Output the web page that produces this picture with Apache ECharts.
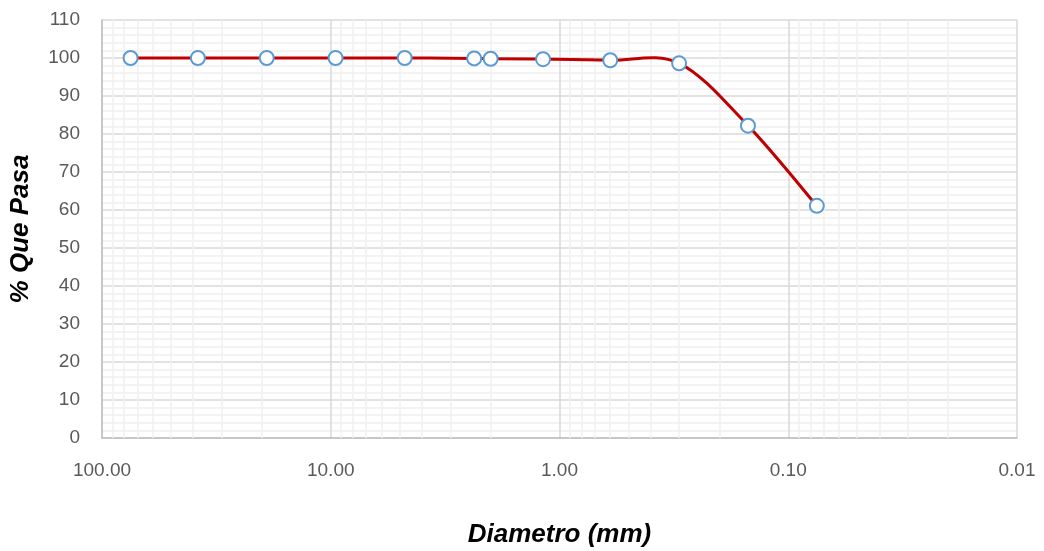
<!DOCTYPE html>
<html>
<head>
<meta charset="utf-8">
<script src="https://cdn.jsdelivr.net/npm/echarts@6/dist/echarts.min.js"></script>
<style>
  html, body { margin: 0; padding: 0; background: #fff; }
  #main { width: 1044px; height: 551px; }
</style>
</head>
<body>
<div id="main"></div>
<script>
// tamiz (mm) y porcentaje que pasa
var diametros = [75, 38.1, 19.05, 9.525, 4.75, 2.36, 2.0, 1.18, 0.6, 0.3, 0.15, 0.075];
var pasa = [100, 100, 100, 100, 100, 99.9, 99.8, 99.7, 99.4, 98.6, 82.2, 61.1];
var yTicks = [0, 110, 10];   // min, max, paso

var puntos = [];
for (var i = 0; i < diametros.length; i++) {
  puntos.push([diametros[i], pasa[i]]);
}

// lineas menores del eje log (2..9 de cada decada)
var menores = [];
var decadas = [0.01, 0.1, 1, 10];
for (var d = 0; d < decadas.length; d++) {
  for (var k = 2; k <= 9; k++) {
    menores.push({ xAxis: +(decadas[d] * k).toPrecision(3) });
  }
}

// curva suavizada tipo Excel (bezier catmull-rom sobre los puntos en pixeles)
function curva(params, api) {
  if (params.dataIndex !== 0) return null;
  var p = [];
  for (var i = 0; i < puntos.length; i++) p.push(api.coord(puntos[i]));
  var path = 'M' + p[0][0] + ' ' + p[0][1];
  for (var i = 0; i < p.length - 1; i++) {
    var p0 = p[i > 0 ? i - 1 : i], p1 = p[i], p2 = p[i + 1], p3 = p[i + 2 < p.length ? i + 2 : i + 1];
    var c1x = p1[0] + (p2[0] - p0[0]) / 6, c1y = p1[1] + (p2[1] - p0[1]) / 6;
    var c2x = p2[0] - (p3[0] - p1[0]) / 6, c2y = p2[1] - (p3[1] - p1[1]) / 6;
    path += ' C' + c1x + ' ' + c1y + ' ' + c2x + ' ' + c2y + ' ' + p2[0] + ' ' + p2[1];
  }
  return {
    type: 'path',
    shape: { pathData: path },
    style: { fill: 'none', stroke: '#c00000', lineWidth: 3 }
  };
}

var chart = echarts.init(document.getElementById('main'));
var fuente = '"Liberation Sans", Arial, sans-serif';

chart.setOption({
  animation: false,
  grid: { left: 102, right: 27, top: 20, bottom: 113, outerBoundsMode: 'none', containLabel: false },
  xAxis: {
    type: 'log',
    logBase: 10,
    min: 0.01,
    max: 100,
    inverse: true,
    name: 'Diametro (mm)',
    nameLocation: 'middle',
    nameGap: 84,
    nameTextStyle: { fontFamily: fuente, fontSize: 26, fontWeight: 'bold', fontStyle: 'italic', color: '#000' },
    axisLine: { lineStyle: { color: '#bfbfbf', width: 1.5 } },
    axisTick: { show: false },
    axisLabel: {
      margin: 23,
      fontFamily: fuente, fontSize: 19, color: '#595959',
      formatter: function (v) { return v.toFixed(2); }
    },
    splitLine: { show: true, lineStyle: { color: '#d9d9d9', width: 1.5 } }
  },
  yAxis: {
    type: 'value',
    min: yTicks[0],
    max: yTicks[1],
    interval: yTicks[2],
    name: '% Que Pasa',
    nameLocation: 'middle',
    nameGap: 68,
    nameTextStyle: { fontFamily: fuente, fontSize: 26, fontWeight: 'bold', fontStyle: 'italic', color: '#000' },
    axisLine: { show: true, lineStyle: { color: '#bfbfbf', width: 1.5 } },
    axisTick: { show: false },
    axisLabel: { margin: 22, fontFamily: fuente, fontSize: 19, color: '#595959' },
    splitLine: { show: true, lineStyle: { color: '#d9d9d9', width: 1.5 } },
    minorTick: { show: false, splitNumber: 5 },
    minorSplitLine: { show: true, lineStyle: { color: '#f0f0f0', width: 1.5 } }
  },
  series: [
    {
      type: 'line',
      data: [],
      silent: true,
      z: 1,
      markLine: {
        silent: true,
        z: 1,
        symbol: 'none',
        label: { show: false },
        lineStyle: { color: '#f0f0f0', width: 1.5, type: 'solid' },
        data: menores
      }
    },
    {
      type: 'custom',
      data: puntos,
      z: 3,
      silent: true,
      renderItem: curva
    },
    {
      type: 'line',
      data: puntos,
      z: 5,
      symbol: 'circle',
      symbolSize: 14,
      lineStyle: { width: 0, opacity: 0 },
      itemStyle: { color: '#ffffff', borderColor: '#5b9bd5', borderWidth: 2 }
    }
  ]
});
</script>
</body>
</html>
